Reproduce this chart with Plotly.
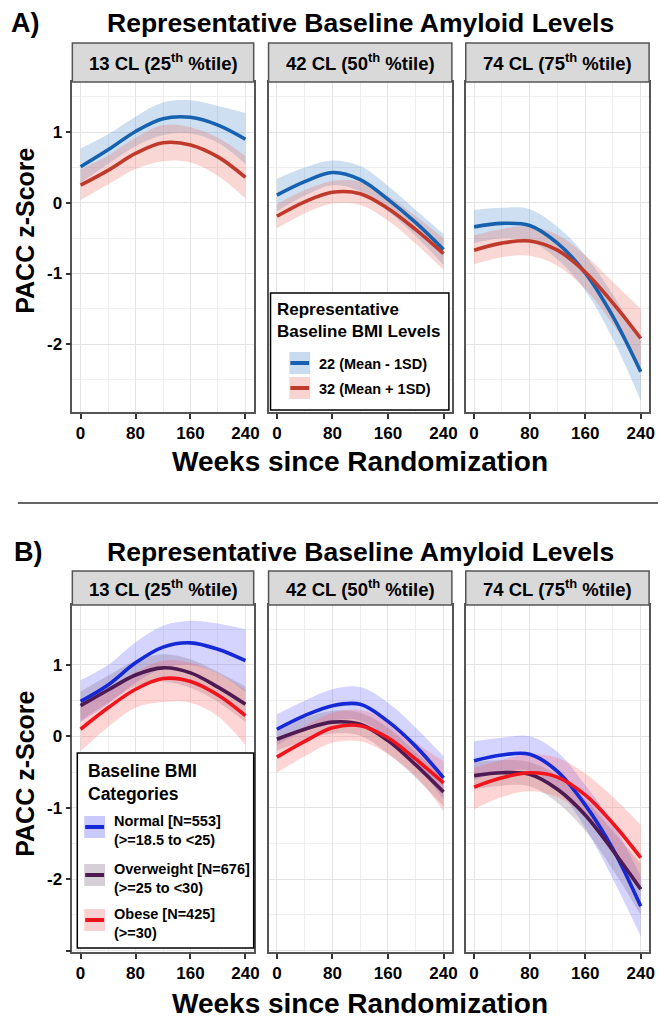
import plotly.graph_objects as go

W, H = 664, 1019
FONT = "Liberation Sans, Arial, sans-serif"

# ---------------- data ----------------
weeks = [0, 40, 80, 120, 160, 200, 240]
x_ticks = [0, 80, 160, 240]
amyloid_labels = ["13 CL (25<sup>th</sup> %tile)",
                  "42 CL (50<sup>th</sup> %tile)",
                  "74 CL (75<sup>th</sup> %tile)"]

# Panel A: representative baseline BMI levels (one list per amyloid level)
bmi_levels_a = ["22 (Mean - 1SD)", "32 (Mean + 1SD)"]
a22_fit = [[0.51, 0.75, 1.01, 1.19, 1.21, 1.10, 0.90],
           [0.11, 0.30, 0.43, 0.33, 0.05, -0.28, -0.66],
           [-0.34, -0.29, -0.32, -0.57, -0.99, -1.61, -2.39]]
a22_lo = [[0.28, 0.55, 0.80, 0.96, 0.98, 0.85, 0.55],
          [-0.12, 0.10, 0.25, 0.16, -0.12, -0.47, -0.88],
          [-0.57, -0.50, -0.54, -0.80, -1.24, -1.93, -2.80]]
a22_hi = [[0.77, 0.97, 1.22, 1.42, 1.45, 1.37, 1.27],
          [0.34, 0.50, 0.60, 0.52, 0.24, -0.10, -0.44],
          [-0.10, -0.07, -0.09, -0.34, -0.74, -1.30, -1.96]]
a32_fit = [[0.25, 0.46, 0.70, 0.85, 0.82, 0.65, 0.36],
           [-0.19, 0.015, 0.15, 0.13, -0.08, -0.38, -0.72],
           [-0.67, -0.57, -0.54, -0.67, -0.98, -1.42, -1.92]]
a32_lo = [[0.04, 0.26, 0.48, 0.59, 0.57, 0.38, 0.06],
          [-0.36, -0.15, -0.01, -0.03, -0.25, -0.58, -0.95],
          [-0.87, -0.77, -0.75, -0.89, -1.22, -1.72, -2.32]]
a32_hi = [[0.47, 0.67, 0.92, 1.10, 1.07, 0.92, 0.66],
          [-0.02, 0.18, 0.31, 0.30, 0.10, -0.19, -0.50],
          [-0.46, -0.37, -0.33, -0.45, -0.74, -1.12, -1.50]]

# Panel B: baseline BMI categories
bmi_cats_b = ["Normal [N=553]<br>(>=18.5 to <25)",
              "Overweight [N=676]<br>(>=25 to <30)",
              "Obese [N=425]<br>(>=30)"]
bn_fit = [[0.49, 0.72, 1.03, 1.25, 1.31, 1.22, 1.06],
          [0.10, 0.29, 0.43, 0.45, 0.21, -0.14, -0.58],
          [-0.34, -0.26, -0.25, -0.49, -0.96, -1.58, -2.38]]
bn_lo = [[0.20, 0.45, 0.75, 0.95, 1.00, 0.88, 0.62],
         [-0.12, 0.08, 0.22, 0.22, -0.04, -0.40, -0.88],
         [-0.61, -0.50, -0.48, -0.74, -1.28, -2.00, -2.80]]
bn_hi = [[0.79, 1.00, 1.32, 1.55, 1.62, 1.58, 1.50],
         [0.31, 0.50, 0.66, 0.69, 0.47, 0.12, -0.28],
         [-0.07, -0.02, 0.00, -0.22, -0.68, -1.22, -1.96]]
bo_fit = [[0.43, 0.65, 0.86, 0.96, 0.89, 0.69, 0.45],
          [-0.04, 0.10, 0.20, 0.17, -0.06, -0.40, -0.78],
          [-0.55, -0.51, -0.53, -0.74, -1.10, -1.60, -2.14]]
bo_lo = [[0.22, 0.47, 0.70, 0.77, 0.68, 0.48, 0.20],
         [-0.20, -0.06, 0.04, 0.01, -0.24, -0.58, -0.98],
         [-0.74, -0.69, -0.70, -0.93, -1.32, -1.87, -2.50]]
bo_hi = [[0.63, 0.85, 1.06, 1.15, 1.08, 0.90, 0.70],
         [0.12, 0.26, 0.36, 0.33, 0.12, -0.22, -0.58],
         [-0.36, -0.33, -0.36, -0.55, -0.88, -1.33, -1.78]]
bb_fit = [[0.10, 0.40, 0.66, 0.81, 0.77, 0.58, 0.29],
          [-0.29, -0.07, 0.12, 0.15, -0.02, -0.32, -0.65],
          [-0.71, -0.58, -0.51, -0.57, -0.82, -1.22, -1.70]]
bb_lo = [[-0.21, 0.13, 0.40, 0.48, 0.47, 0.28, -0.12],
         [-0.51, -0.28, -0.09, -0.07, -0.25, -0.56, -1.05],
         [-1.02, -0.85, -0.77, -0.85, -1.12, -1.60, -2.16]]
bb_hi = [[0.41, 0.66, 0.90, 1.06, 1.03, 0.88, 0.65],
         [-0.07, 0.14, 0.33, 0.37, 0.21, -0.09, -0.35],
         [-0.44, -0.33, -0.25, -0.30, -0.52, -0.85, -1.24]]

# ---------------- styles ----------------
A_LINE = ["#1762b0", "#c03a2b"]
A_FILL = ["rgba(80,140,205,0.28)", "rgba(232,110,100,0.28)"]
A_ICON = ["#c8dbef", "#f8d3cf"]
B_LINE = ["#1529d6", "#4d1a52", "#f2141c"]
B_FILL = ["rgba(95,95,255,0.27)", "rgba(125,105,125,0.27)", "rgba(255,95,95,0.27)"]
B_ICON = ["#c9c9fb", "#d6cfd7", "#fcd1d1"]

def xp(p):
    return p / W

def yp(p):
    return 1 - p / H

cols = [(73, 256), (271, 456), (470, 655)]
rows = [dict(top=82, bot=412, rng=[-2.96, 1.71], strip=(43, 82),
             tv=[-2, -1, 0, 1], tt=["-2", "-1", "0", "1"],
             minor=[-2.5, -1.5, -0.5, 0.5, 1.5]),
        dict(top=605, bot=952, rng=[-3.02, 1.84], strip=(571, 605),
             tv=[-3, -2, -1, 0, 1], tt=["", "-2", "-1", "0", "1"],
             minor=[-2.5, -1.5, -0.5, 0.5, 1.5])]

fig = go.Figure()
layout = dict(width=W, height=H, margin=dict(l=0, r=0, t=0, b=0),
              paper_bgcolor="white", plot_bgcolor="white",
              showlegend=False, font=dict(family=FONT, color="black"))
shapes, annotations = [], []

panel_series = []
for c in range(3):
    panel_series.append([(a22_lo[c], a22_hi[c], a22_fit[c], A_LINE[0], A_FILL[0]),
                         (a32_lo[c], a32_hi[c], a32_fit[c], A_LINE[1], A_FILL[1])])
for c in range(3):
    panel_series.append([(bn_lo[c], bn_hi[c], bn_fit[c], B_LINE[0], B_FILL[0]),
                         (bo_lo[c], bo_hi[c], bo_fit[c], B_LINE[1], B_FILL[1]),
                         (bb_lo[c], bb_hi[c], bb_fit[c], B_LINE[2], B_FILL[2])])

tickfont = dict(family=FONT, size=17, color="black", weight="bold")

for r, row in enumerate(rows):
    for c, (l, rr) in enumerate(cols):
        k = r * 3 + c + 1
        xs = "" if k == 1 else str(k)
        layout["xaxis" + xs] = dict(
            domain=[xp(l), xp(rr)], anchor="y" + xs, range=[-12, 252],
            tickmode="array", tickvals=x_ticks, ticktext=[str(v) for v in x_ticks],
            ticks="outside", ticklen=5, tickwidth=1.5, tickcolor="#333",
            tickfont=tickfont, showline=True, mirror=True, linecolor="#555",
            linewidth=1.5, showgrid=True, gridcolor="#e4e4e4", gridwidth=1.3,
            zeroline=False, fixedrange=True,
            minor=dict(tickmode="array", tickvals=[40, 120, 200], showgrid=True,
                       gridcolor="#eeeeee", gridwidth=1, ticks=""))
        layout["yaxis" + xs] = dict(
            domain=[yp(row["bot"]), yp(row["top"])], anchor="x" + xs,
            range=row["rng"], tickmode="array", tickvals=row["tv"], ticktext=row["tt"],
            ticks="outside" if c == 0 else "", ticklen=5, tickwidth=1.5,
            tickcolor="#333", showticklabels=(c == 0), tickfont=tickfont,
            showline=True, mirror=True, linecolor="#555", linewidth=1.5,
            showgrid=True, gridcolor="#e4e4e4", gridwidth=1.3, zeroline=False,
            fixedrange=True,
            minor=dict(tickmode="array", tickvals=row["minor"], showgrid=True,
                       gridcolor="#eeeeee", gridwidth=1, ticks=""))
        xa, ya = "x" + xs, "y" + xs
        series = panel_series[k - 1]
        for lo, hi, fit, lc, fc in series:
            fig.add_trace(go.Scatter(x=weeks, y=lo, xaxis=xa, yaxis=ya, mode="lines",
                                     line=dict(width=0, shape="spline", smoothing=1.0),
                                     hoverinfo="skip"))
            fig.add_trace(go.Scatter(x=weeks, y=hi, xaxis=xa, yaxis=ya, mode="lines",
                                     line=dict(width=0, shape="spline", smoothing=1.0),
                                     fill="tonexty", fillcolor=fc, hoverinfo="skip"))
        for lo, hi, fit, lc, fc in series:
            fig.add_trace(go.Scatter(x=weeks, y=fit, xaxis=xa, yaxis=ya, mode="lines",
                                     line=dict(width=3.6, color=lc, shape="spline",
                                               smoothing=1.0)))
        # strip header
        s0, s1 = row["strip"]
        shapes.append(dict(type="rect", xref="paper", yref="paper",
                           x0=xp(l), x1=xp(rr), y0=yp(s1), y1=yp(s0),
                           fillcolor="#d9d9d9", line=dict(color="#555", width=1.5)))
        annotations.append(dict(xref="paper", yref="paper", x=xp((l + rr) / 2),
                                y=yp((s0 + s1) / 2), text=amyloid_labels[c],
                                showarrow=False, xanchor="center", yanchor="middle",
                                font=dict(family=FONT, size=18.5, color="black", weight="bold")))

# panel letters, titles, axis titles
for letter, lx, ty, xty, yty in [("A)", 9, 23, 462, 231), ("B)", 12, 552, 1003, 774)]:
    annotations.append(dict(xref="paper", yref="paper", x=xp(lx), y=yp(ty), text=letter,
                            showarrow=False, xanchor="left", yanchor="middle",
                            font=dict(family=FONT, size=27, color="black", weight="bold")))
    annotations.append(dict(xref="paper", yref="paper", x=xp(364), y=yp(ty),
                            text="Representative Baseline Amyloid Levels",
                            showarrow=False, xanchor="center", yanchor="middle",
                            font=dict(family=FONT, size=26.5, color="black", weight="bold")))
    annotations.append(dict(xref="paper", yref="paper", x=xp(363), y=yp(xty),
                            text="Weeks since Randomization",
                            showarrow=False, xanchor="center", yanchor="middle",
                            font=dict(family=FONT, size=28, color="black", weight="bold")))
    annotations.append(dict(xref="paper", yref="paper", x=xp(25), y=yp(yty),
                            text="PACC z-Score", textangle=-90,
                            showarrow=False, xanchor="center", yanchor="middle",
                            font=dict(family=FONT, size=25, color="black", weight="bold")))

# separator line
shapes.append(dict(type="line", xref="paper", yref="paper", x0=xp(18), x1=xp(664),
                   y0=yp(503), y1=yp(503), line=dict(color="#333", width=1.5)))

# ---------------- legends ----------------
def legend_box(x0, y0, x1, y1):
    shapes.append(dict(type="rect", xref="paper", yref="paper", layer="above",
                       x0=xp(x0), x1=xp(x1), y0=yp(y1), y1=yp(y0),
                       fillcolor="white", line=dict(color="black", width=1.5)))

def legend_text(x, y, text, size):
    annotations.append(dict(xref="paper", yref="paper", x=xp(x), y=yp(y), text=text,
                            showarrow=False, xanchor="left", yanchor="middle", align="left",
                            font=dict(family=FONT, size=size, color="black", weight="bold")))

def legend_icon(x0, x1, yc, fill, lc):
    shapes.append(dict(type="rect", xref="paper", yref="paper", layer="above",
                       x0=xp(x0), x1=xp(x1), y0=yp(yc + 11), y1=yp(yc - 11),
                       fillcolor=fill, line=dict(width=0)))
    shapes.append(dict(type="line", xref="paper", yref="paper", layer="above",
                       x0=xp(x0 + 1), x1=xp(x1 - 1), y0=yp(yc), y1=yp(yc),
                       line=dict(color=lc, width=4)))

# Legend A
legend_box(273, 293, 453, 410)
legend_text(278, 320, "Representative<br>Baseline BMI Levels", 17)
for i, (name, yc) in enumerate(zip(bmi_levels_a, [363, 388])):
    legend_icon(292, 313, yc, A_ICON[i], A_LINE[i])
    legend_text(320, yc + 1, name, 14.5)

# Legend B
legend_box(78, 753, 256, 948)
legend_text(87, 782, "Baseline BMI<br>Categories", 17.5)
for i, (name, yc) in enumerate(zip(bmi_cats_b, [827, 875, 920])):
    legend_icon(85, 106, yc, B_ICON[i], B_LINE[i])
    legend_text(113, yc + 3, name, 14.5)

layout["shapes"] = shapes
layout["annotations"] = annotations
fig.update_layout(**layout)
fig.write_html(
    "out.html",
    config={"displayModeBar": False},
    post_script="document.body.style.margin='0';document.body.style.padding='0';"
                "document.body.style.overflow='hidden';",
)
